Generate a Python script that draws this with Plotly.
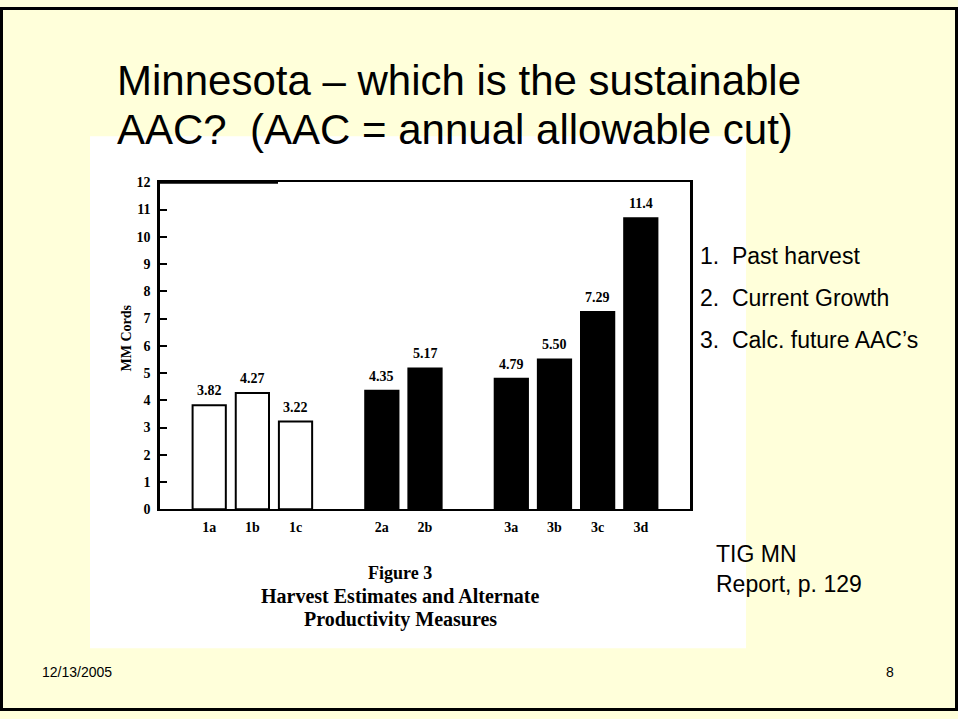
import plotly.graph_objects as go

# ---- data ----
categories = ["1a", "1b", "1c", "2a", "2b", "3a", "3b", "3c", "3d"]
bar_heights = [3.82, 4.27, 3.22, 4.35, 5.17, 4.79, 5.50, 7.24, 10.68]
value_labels = ["3.82", "4.27", "3.22", "4.35", "5.17", "4.79", "5.50", "7.29", "11.4"]
y_ticks = list(range(0, 13))
list_items = ["1.  Past harvest", "2.  Current Growth", "3.  Calc. future AAC\u2019s"]

W, H = 958, 719
def px(x): return x / W
def py(y): return 1 - y / H

# positions: groups separated by one empty slot
groups = [int(c[0]) for c in categories]
xpos = [i + (g - 1) for i, g in enumerate(groups)]
fills = ["white" if g == 1 else "black" for g in groups]

serif = "Liberation Serif"
sans = "Liberation Sans"

fig = go.Figure()
fig.add_trace(go.Bar(
    x=xpos, y=bar_heights, width=0.77,
    marker=dict(color=fills, line=dict(color="black", width=2)),
    hoverinfo="skip", showlegend=False,
))

annotations = []
for xv, h, lab in zip(xpos, bar_heights, value_labels):
    annotations.append(dict(x=xv, y=h, xref="x", yref="y", text=lab, showarrow=False,
                            yanchor="bottom", yshift=5,
                            font=dict(family=serif, size=14, color="black", weight="bold")))

# y axis title
annotations.append(dict(x=px(117), y=py(338), xref="paper", yref="paper", text="MM Cords",
                        textangle=-90, showarrow=False,
                        font=dict(family=serif, size=14, color="black", weight="bold")))

# slide title
annotations.append(dict(x=px(115), y=py(75), xref="paper", yref="paper",
                        text="Minnesota \u2013 which is the sustainable", showarrow=False,
                        xanchor="left", yanchor="middle",
                        font=dict(family=sans, size=42, color="black")))
annotations.append(dict(x=px(115), y=py(125), xref="paper", yref="paper",
                        text="AAC?  (AAC = annual allowable cut)", showarrow=False,
                        xanchor="left", yanchor="middle",
                        font=dict(family=sans, size=42, color="black")))

# figure caption
for txt, yy, sz in [("Figure 3", 578, 18),
                    ("Harvest Estimates and Alternate", 602, 20),
                    ("Productivity Measures", 626, 20)]:
    annotations.append(dict(x=px(400), y=py(yy), xref="paper", yref="paper", text=txt,
                            showarrow=False, xanchor="center", yanchor="middle",
                            font=dict(family=serif, size=sz, color="black", weight="bold")))

# right side list
for txt, yy in zip(list_items, [254, 297, 340]):
    annotations.append(dict(x=px(698), y=py(yy), xref="paper", yref="paper", text=txt,
                            showarrow=False, xanchor="left", yanchor="middle",
                            font=dict(family=sans, size=23, color="black")))

annotations.append(dict(x=px(714), y=py(574), xref="paper", yref="paper",
                        text="TIG MN<br>Report, p. 129", showarrow=False, align="left",
                        xanchor="left", yanchor="middle",
                        font=dict(family=sans, size=23, color="black")))

# footer
annotations.append(dict(x=px(40), y=py(679), xref="paper", yref="paper", text="12/13/2005",
                        showarrow=False, xanchor="left", yanchor="middle",
                        font=dict(family=sans, size=14, color="black")))
annotations.append(dict(x=px(896), y=py(679), xref="paper", yref="paper", text="8",
                        showarrow=False, xanchor="right", yanchor="middle",
                        font=dict(family=sans, size=14, color="black")))

shapes = [
    dict(type="rect", xref="paper", yref="paper", x0=px(90), x1=px(746), y0=py(655), y1=py(132),
         fillcolor="white", line=dict(width=0), layer="below"),
    # heavier left part of the top frame line, as in the scanned figure
    dict(type="line", xref="paper", yref="paper", x0=px(159), x1=px(278), y0=py(179), y1=py(179),
         line=dict(color="black", width=3), layer="above"),
    dict(type="rect", xref="paper", yref="paper", x0=px(1.5), x1=px(956.5), y0=py(717.5), y1=py(1.5),
         fillcolor="rgba(0,0,0,0)", line=dict(color="black", width=3), layer="above"),
]

fig.update_layout(
    width=W, height=H,
    margin=dict(l=0, r=0, t=0, b=0),
    paper_bgcolor="#FFFFDA",
    plot_bgcolor="white",
    showlegend=False,
    hovermode=False,
    annotations=annotations,
    shapes=shapes,
    xaxis=dict(domain=[px(160), px(690)], range=[-1.14, 11.14],
               tickmode="array", tickvals=xpos, ticktext=categories,
               ticks="", showline=True, linecolor="black", linewidth=2, mirror=True,
               showgrid=False, zeroline=False, fixedrange=True, ticklabelstandoff=4,
               tickfont=dict(family=serif, size=14, color="black", weight="bold")),
    yaxis=dict(domain=[py(513), py(179)], range=[0, 12],
               tickmode="array", tickvals=y_ticks, ticktext=[str(t) for t in y_ticks],
               ticks="inside", ticklen=7, tickwidth=2, tickcolor="black",
               showline=True, linecolor="black", linewidth=2.5, mirror=True,
               showgrid=False, zeroline=False, fixedrange=True, ticklabelstandoff=4,
               tickfont=dict(family=serif, size=14, color="black", weight="bold")),
)

fig.write_html("out.html", config={"displayModeBar": False},
               post_script="document.body.style.margin='0';document.body.style.overflow='hidden';")
